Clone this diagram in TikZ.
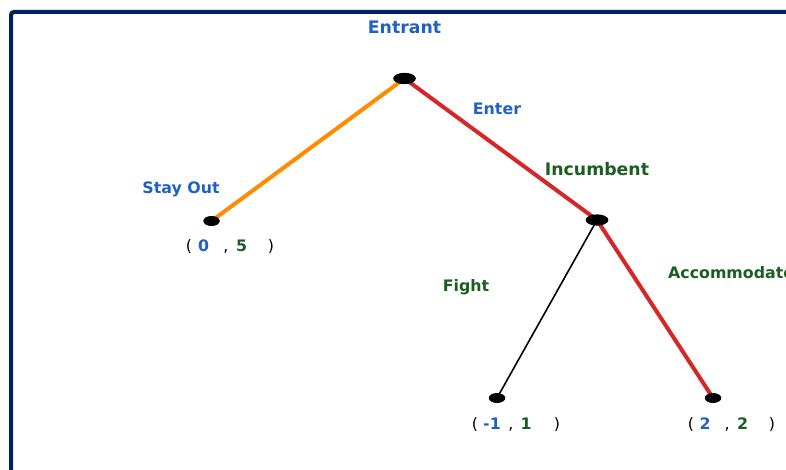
\documentclass[tikz,border=0pt]{standalone}
\usepackage{fontspec}
\setmainfont{DejaVu Sans}
\usetikzlibrary{shapes.geometric,backgrounds}
\definecolor{navy}{HTML}{002060}
\definecolor{lblue}{HTML}{1F62C4}
\definecolor{lgreen}{HTML}{1B5E20}
\definecolor{ered}{HTML}{D62728}
\definecolor{eorange}{HTML}{FF8C00}
\begin{document}
\begin{tikzpicture}[x=1pt,y=-1pt,
  small/.style={font=\bfseries\fontsize{15.8}{18}\selectfont, inner sep=0pt},
  large/.style={font=\bfseries\fontsize{17.3}{20}\selectfont, inner sep=0pt},
  decnode/.style={ellipse, fill=black, inner sep=0pt, minimum width=22.7pt, minimum height=11.3pt},
  leafnode/.style={ellipse, fill=black, inner sep=0pt, minimum width=16.5pt, minimum height=10pt},
  thickedge/.style={line width=4pt},
  thinedge/.style={line width=1.6pt, black},
  pun/.style={font=\fontsize{15.8}{18}\selectfont, inner sep=0pt, anchor=base},
  num/.style={font=\bfseries\fontsize{15.8}{18}\selectfont, inner sep=0pt, anchor=base}]
\clip (0,0) rectangle (786,470);
\draw[navy, line width=4pt, rounded corners=3pt] (11,12) rectangle (900,600);

\node[decnode] (entrant) at (404.5,78.5) {};
\node[decnode] (incumbent) at (597,220) {};
\node[leafnode] (stay) at (211.5,221) {};
\node[leafnode] (fight) at (497,398) {};
\node[leafnode] (accom) at (713,398) {};

\begin{pgfonlayer}{background}
\draw[thickedge, eorange] (entrant.center) -- (stay.center);
\draw[thickedge, ered] (entrant.center) -- (incumbent.center);
\draw[thinedge] (incumbent.center) -- (fight.center);
\draw[thickedge, ered] (incumbent.center) -- (accom.center);
\end{pgfonlayer}

\node[large, text=lblue] (lentrant) at (404.5,27) {Entrant};
\node[large, text=lgreen] (lincumbent) at (597,169) {Incumbent};
\node[small, text=lblue] (lstay) at (181,189) {Stay Out};
\node[small, text=lblue] (lenter) at (497,109) {Enter};
\node[small, text=lgreen] (lfight) at (466,287) {Fight};
\node[small, text=lgreen, anchor=west] (laccom) at (668,273) {Accommodate};

% payoffs
\node[pun] (p1o) at (189,251.5) {(};
\node[num, text=lblue] (p1a) at (203.5,251.5) {0};
\node[pun] (p1c) at (226,251.5) {,};
\node[num, text=lgreen] (p1b) at (241.5,251.5) {5};
\node[pun] (p1e) at (271,251.5) {)};

\node[pun] (p2o) at (475,429.5) {(};
\node[num, text=lblue] (p2a) at (492,429.5) {-1};
\node[pun] (p2c) at (511,429.5) {,};
\node[num, text=lgreen] (p2b) at (526,429.5) {1};
\node[pun] (p2e) at (557,429.5) {)};

\node[pun] (p3o) at (691,429.5) {(};
\node[num, text=lblue] (p3a) at (705,429.5) {2};
\node[pun] (p3c) at (727,429.5) {,};
\node[num, text=lgreen] (p3b) at (742.5,429.5) {2};
\node[pun] (p3e) at (772,429.5) {)};
\end{tikzpicture}
\end{document}
